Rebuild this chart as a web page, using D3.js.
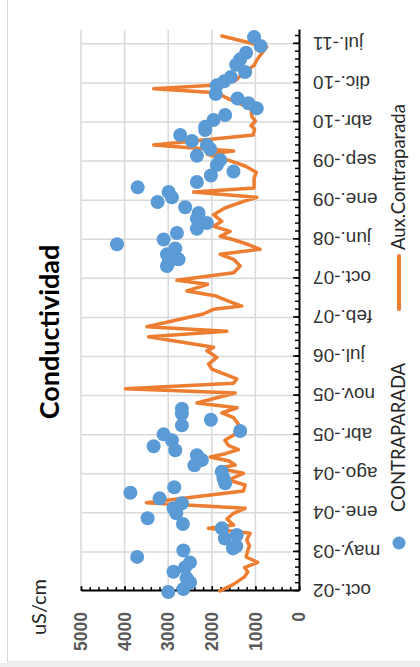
<!DOCTYPE html>
<html lang="es">
<head>
<meta charset="utf-8">
<title>Conductividad</title>
<script src="https://d3js.org/d3.v7.min.js"></script>
<style>
  body { margin: 0; background: #fff; }
  svg { display: block; font-family: Lato, "Open Sans", sans-serif; }
</style>
</head>
<body>
<script>
// values: time as decimal year, conductivity in uS/cm
var lineYears = [2002.790, 2002.892, 2003.015, 2003.097, 2003.165, 2003.247, 2003.333, 2003.437, 2003.509, 2003.604,
  2003.711, 2003.791, 2003.844, 2003.940, 2004.031, 2004.111, 2004.200, 2004.387, 2004.483, 2004.563,
  2004.670, 2004.750, 2004.802, 2004.866, 2004.930, 2004.983, 2005.047, 2005.117, 2005.197, 2005.302,
  2005.452, 2005.558, 2005.633, 2005.717, 2005.792, 2005.952, 2006.021, 2006.107, 2006.176, 2006.335,
  2006.415, 2006.522, 2006.628, 2006.682, 2006.851, 2006.937, 2007.011, 2007.214, 2007.289, 2007.341,
  2007.421, 2007.501, 2007.581, 2007.688, 2007.752, 2007.873, 2007.980, 2008.087, 2008.167, 2008.247,
  2008.320, 2008.400, 2008.455, 2008.534, 2008.614, 2008.694, 2008.800, 2008.907, 2009.014, 2009.077,
  2009.162, 2009.226, 2009.386, 2009.477, 2009.566, 2009.620, 2009.689, 2009.764, 2009.817, 2009.913,
  2010.072, 2010.168, 2010.221, 2010.296, 2010.365, 2010.499, 2010.599, 2010.679, 2010.748, 2010.812,
  2010.876, 2010.946, 2011.078, 2011.185, 2011.265, 2011.345, 2011.478, 2011.653];
var lineValues = [1818, 1515, 1250, 1174, 1250, 947, 1212, 1175, 1136, 1198,
  1122, 2075, 1500, 1650, 1503, 1236, 3500, 1275, 1236, 1618,
  1274, 1846, 1465, 1600, 2037, 1690, 1390, 1620, 1700, 1450,
  1390, 1500, 1770, 1420, 2342, 1465, 3983, 1500, 1427, 2000,
  2075, 1885, 2113, 1960, 3449, 1656, 3487, 2200, 1960, 1312,
  1620, 1900, 2571, 2100, 2800, 1500, 1350, 1500, 1808, 893,
  1150, 1500, 1808, 1580, 1960, 1770, 1960, 1700, 1270, 969,
  2419, 1030, 1030, 980, 1200, 1400, 1700, 2100, 1500, 3334,
  1050, 1020, 1100, 1000, 1080, 1100, 1450, 1700, 1885, 3334,
  1800, 1450, 1250, 1030, 970, 890, 740, 1770];

var dotYears = [2002.774, 2002.822, 2002.926, 2002.994, 2003.097, 2003.165, 2003.247, 2003.335, 2003.437, 2003.470,
  2003.504, 2003.628, 2003.684, 2003.791, 2003.860, 2003.951, 2004.031, 2004.111, 2004.191, 2004.270,
  2004.360, 2004.446, 2004.510, 2004.590, 2004.695, 2004.797, 2004.882, 2004.957, 2005.037, 2005.101,
  2005.197, 2005.292, 2005.345, 2005.436, 2005.526, 2005.621, 2005.701,
  2007.980, 2008.033, 2008.087, 2008.167, 2008.260, 2008.328, 2008.403, 2008.507, 2008.576, 2008.667,
  2008.736, 2008.827, 2008.918, 2009.002, 2009.077, 2009.162, 2009.237, 2009.322, 2009.426, 2009.489,
  2009.593, 2009.673, 2009.742, 2009.849, 2009.913, 2009.977, 2010.072, 2010.152, 2010.205, 2010.312,
  2010.392, 2010.499, 2010.579, 2010.655, 2010.727, 2010.866, 2010.930, 2010.999, 2011.078, 2011.195,
  2011.281, 2011.387, 2011.494, 2011.637];
var dotValues = [2998, 2652, 2500, 2576, 2879, 2614, 2500, 3712, 2652, 1515,
  1440, 1700, 1427, 1770, 2663, 3472, 2815, 2876, 2686, 3197,
  3868, 2861, 1694, 1732, 1770, 2400, 2228, 2342, 2838, 3334,
  2915, 3105, 1350, 2686, 2022, 2686, 2686,
  3029, 2991, 2762, 3029, 2838, 4174, 3105, 2800, 2342, 2113,
  2342, 2304, 2610, 3243, 2915, 2991, 3700, 2342, 2020, 1503,
  1885, 1808, 2342, 2037, 2113, 2457, 2724, 2152, 2152, 1961,
  1694, 969, 1160, 1410, 1910, 1885, 1717, 1564, 1236, 1442,
  1350, 1213, 880, 1030];

var tickLabels = ["oct.-02", "may.-03", "ene.-04", "ago.-04", "abr.-05", "nov.-05", "jul.-06", "feb.-07",
  "oct.-07", "jun.-08", "ene.-09", "sep.-09", "abr.-10", "dic.-10", "jul.-11"];
var valueTicks = [0, 1000, 2000, 3000, 4000, 5000];

var w = 420, h = 667;
var blue = "#5B9BD5", orange = "#ED7D31";

var svg = d3.select("body").append("svg").attr("width", w).attr("height", h);

// outer frame of the chart
svg.append("rect").attr("x", 7.5).attr("y", -2).attr("width", 420).attr("height", 664)
  .attr("fill", "none").attr("stroke", "#d9d9d9");
svg.append("rect").attr("x", 0).attr("y", 663).attr("width", w).attr("height", 4).attr("fill", "#eeeeee");

// the chart is drawn landscape and then turned a quarter turn
var g = svg.append("g").attr("transform", "translate(0," + h + ") rotate(-90)");

var start = 2002.79, end = 2011.75, step = 0.6242;   // ~228 days between labels
var x = d3.scaleLinear().domain([start, end]).range([76, 637]);
var y = d3.scaleLinear().domain([0, 5000]).range([299, 81]);

var majorT = tickLabels.map(function(d, i) { return start + i * step; });
var minorT = d3.range(0, 72).map(function(i) { return start + i * step / 5; }).filter(function(t) { return t <= end; });

// gridlines
g.append("g").selectAll("line").data(valueTicks.slice(1)).join("line")
  .attr("x1", x(start)).attr("x2", x(end))
  .attr("y1", function(d) { return y(d); }).attr("y2", function(d) { return y(d); })
  .attr("stroke", "#d9d9d9").attr("stroke-width", 1.5);
g.append("g").selectAll("line").data(majorT.slice(1)).join("line")
  .attr("x1", function(d) { return x(d); }).attr("x2", function(d) { return x(d); })
  .attr("y1", y(0)).attr("y2", y(5000))
  .attr("stroke", "#d9d9d9").attr("stroke-width", 1.5);

// value axis (bottom once turned)
var yMinor = g.append("g").attr("transform", "translate(76,0)")
  .call(d3.axisLeft(y).tickValues(d3.range(0, 5001, 200)).tickSize(-4).tickFormat(""));
yMinor.select(".domain").remove();
var yAxis = g.append("g").attr("transform", "translate(76,0)").attr("font-family", null)
  .call(d3.axisLeft(y).tickValues(valueTicks).tickSizeInner(-5).tickSizeOuter(0).tickPadding(21)
    .tickFormat(d3.format("d")));
yAxis.selectAll("text").attr("font-size", 17.5).attr("font-weight", "bold").attr("fill", "#595959");

// date axis (right side once turned)
var xMinor = g.append("g").attr("transform", "translate(0,299)")
  .call(d3.axisBottom(x).tickValues(minorT).tickSize(-4).tickFormat(""));
xMinor.select(".domain").remove();
var xAxis = g.append("g").attr("transform", "translate(0,299)").attr("font-family", null)
  .call(d3.axisBottom(x).tickValues(majorT).tickSizeInner(-6).tickSizeOuter(0)
    .tickFormat(function(d) { return tickLabels[majorT.indexOf(d)]; }));
xAxis.selectAll("text")
  .attr("transform", "rotate(-90)").attr("x", -14).attr("y", 0).attr("dy", "0.35em")
  .attr("text-anchor", "end").attr("font-size", 19).attr("fill", "#333");

g.selectAll(".domain").attr("stroke", "#000").attr("stroke-width", 2);
g.selectAll(".tick line").attr("stroke", "#000").attr("stroke-width", 1.5);

// series
var pts = lineYears.map(function(t, i) { return [t, lineValues[i]]; });
g.append("path").datum(pts)
  .attr("d", d3.line().x(function(d) { return x(d[0]); }).y(function(d) { return y(d[1]); }))
  .attr("fill", "none").attr("stroke", orange).attr("stroke-width", 3.5)
  .attr("stroke-linejoin", "round").attr("stroke-linecap", "round");

g.append("g").selectAll("circle").data(dotYears).join("circle")
  .attr("cx", function(d) { return x(d); })
  .attr("cy", function(d, i) { return y(dotValues[i]); })
  .attr("r", 7).attr("fill", blue);

// title and unit
g.append("text").attr("x", 335).attr("y", 59).attr("text-anchor", "middle")
  .attr("font-size", 27).attr("font-weight", "bold").attr("fill", "#000").text("Conductividad");
g.append("text").attr("x", 32).attr("y", 46).attr("font-size", 20).attr("fill", "#262626").text("uS/cm");

// legend
g.append("circle").attr("cx", 124).attr("cy", 399).attr("r", 6.5).attr("fill", blue);
g.append("text").attr("x", 155).attr("y", 405).attr("font-size", 18.5).attr("fill", "#262626").text("CONTRAPARADA");
g.append("line").attr("x1", 358).attr("x2", 411).attr("y1", 399).attr("y2", 399)
  .attr("stroke", orange).attr("stroke-width", 4).attr("stroke-linecap", "round");
g.append("text").attr("x", 417).attr("y", 405).attr("font-size", 18.5).attr("fill", "#262626").text("Aux.Contraparada");
</script>
</body>
</html>
